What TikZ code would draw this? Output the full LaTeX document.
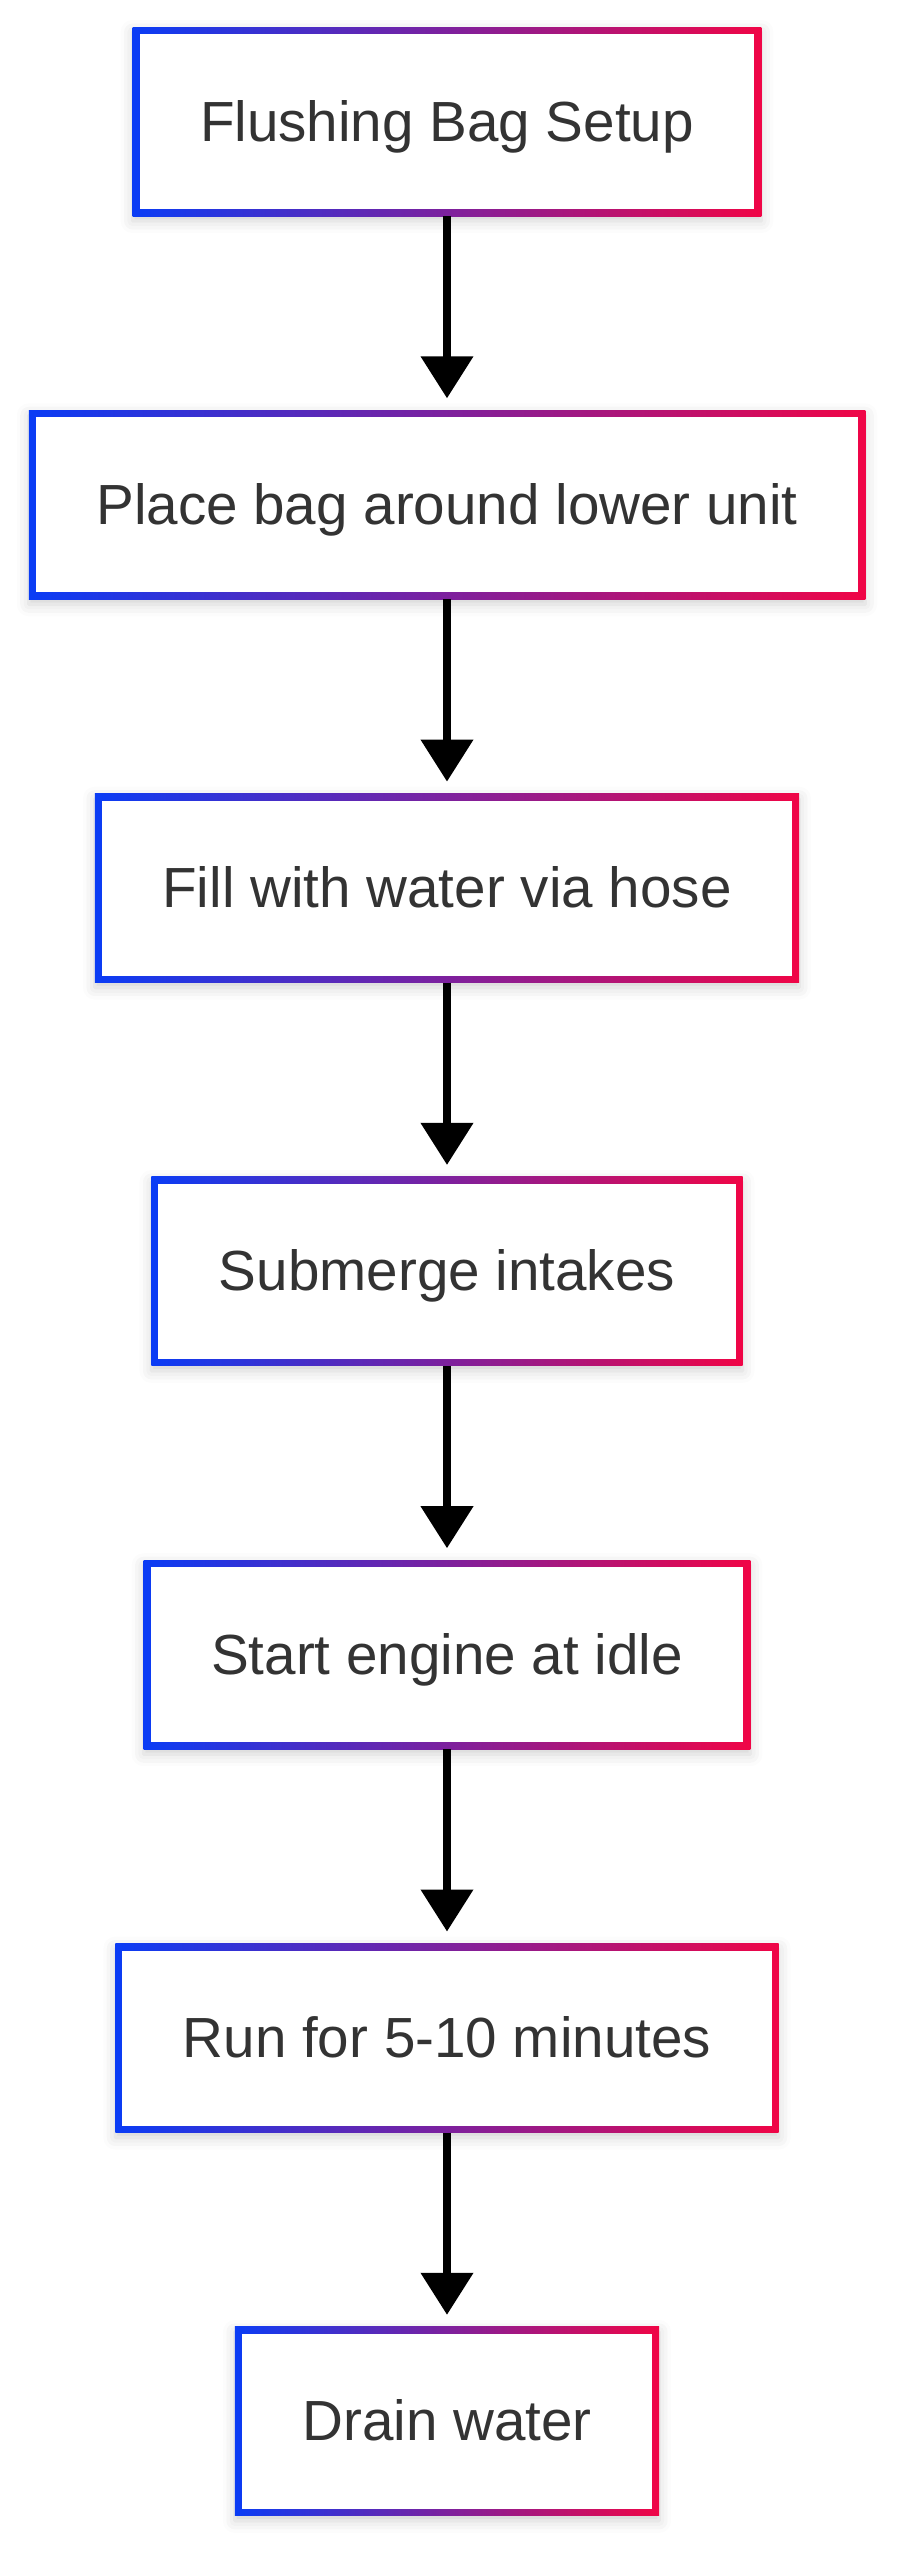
\documentclass[tikz,border=0pt]{standalone}
\usepackage{fontspec}
\setmainfont{Liberation Sans}
\usetikzlibrary{arrows.meta}
\usetikzlibrary{shadows.blur}
\definecolor{gblue}{RGB}{10,60,245}
\definecolor{gred}{RGB}{240,5,70}
\definecolor{txtgray}{RGB}{51,51,51}
\tikzset{
	stepbox/.style={rectangle, fill=white, minimum height=1.89cm, inner xsep=0.675cm, inner ysep=0pt,
		outer sep=0pt, text=txtgray, text height=0.56cm, text depth=0.17cm,
		font=\fontsize{16.1}{19}\selectfont,
		blur shadow={shadow xshift=0pt, shadow yshift=-0.05cm, shadow blur radius=0.12cm, shadow opacity=18},
		path picture={% gradient frame: shade all, then blank the inside
			\shade[left color=gblue, right color=gred] (path picture bounding box.south west) rectangle (path picture bounding box.north east);
			\fill[white] ([shift={(0.07,0.07)}]path picture bounding box.south west) rectangle ([shift={(-0.07,-0.07)}]path picture bounding box.north east);
		}},
	flow/.style={line width=0.075cm, -{Triangle[width=0.51cm,length=0.42cm]}, shorten >=0.12cm}
}

\begin{document}
\begin{tikzpicture}
	\useasboundingbox (0,0) rectangle (8.99,-25.60);
	\node[stepbox] (setup) at (4.47,-1.215) {Flushing Bag Setup};
	\node[stepbox] (place) at (4.47,-5.048) {Place bag around lower unit};
	\node[stepbox] (fill) at (4.47,-8.881) {Fill with water via hose};
	\node[stepbox] (submerge) at (4.47,-12.714) {Submerge intakes};
	\node[stepbox] (start) at (4.47,-16.547) {Start engine at idle};
	\node[stepbox] (run) at (4.47,-20.380) {Run for 5-10 minutes};
	\node[stepbox] (drain) at (4.47,-24.213) {Drain water};
	% arrows between the steps
	\draw[flow] (setup.south) -- (place.north);
	\draw[flow] (place.south) -- (fill.north);
	\draw[flow] (fill.south) -- (submerge.north);
	\draw[flow] (submerge.south) -- (start.north);
	\draw[flow] (start.south) -- (run.north);
	\draw[flow] (run.south) -- (drain.north);
\end{tikzpicture}
\end{document}
